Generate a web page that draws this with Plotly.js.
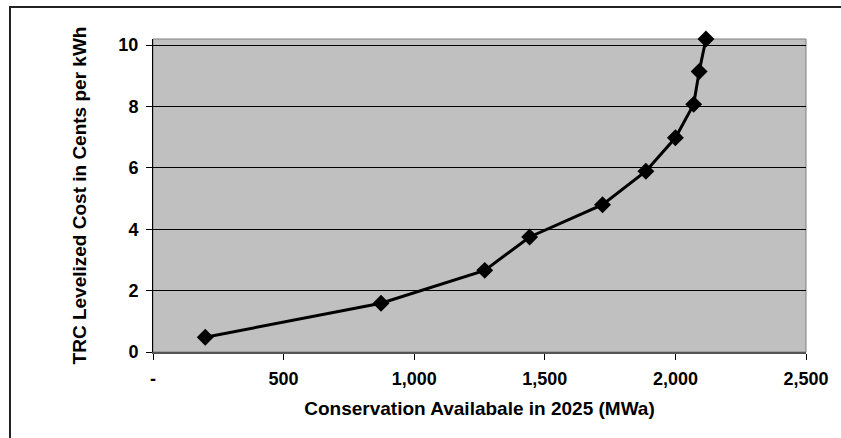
<!DOCTYPE html>
<html>
<head>
<meta charset="utf-8">
<script src="https://cdn.plot.ly/plotly-3.0.1.min.js"></script>
<style>
  html, body { margin: 0; padding: 0; background: #ffffff; }
  #chart { width: 841px; height: 438px; }
</style>
</head>
<body>
<div id="chart"></div>
<script>
// Data
const conservationMWa = [200, 873, 1270, 1442, 1721, 1887, 2000, 2070, 2091, 2117];
const costCentsPerKWh = [0.48, 1.59, 2.66, 3.75, 4.80, 5.89, 6.98, 8.07, 9.14, 10.2];
const xTickValues = [0, 500, 1000, 1500, 2000, 2500];
const xTickLabels = ["-", "500", "1,000", "1,500", "2,000", "2,500"];
const yTickValues = [0, 2, 4, 6, 8, 10];
const xTitle = "Conservation Availabale in 2025 (MWa)";
const yTitle = "TRC Levelized Cost in Cents per kWh";

const fontFamily = "Liberation Sans, Arial, sans-serif";

const trace = {
  type: "scatter",
  mode: "lines+markers",
  x: conservationMWa,
  y: costCentsPerKWh,
  line: { color: "#000000", width: 3 },
  marker: { symbol: "diamond", size: 13, color: "#000000" },
  cliponaxis: false,
  hoverinfo: "x+y"
};

const layout = {
  width: 841,
  height: 438,
  margin: { l: 153, r: 35, t: 39, b: 86 },
  paper_bgcolor: "#ffffff",
  plot_bgcolor: "#c0c0c0",
  showlegend: false,
  font: { family: fontFamily, size: 18, color: "#000000", weight: "bold" },
  xaxis: {
    range: [0, 2500],
    tickvals: xTickValues,
    ticktext: xTickLabels,
    ticks: "outside",
    ticklen: 6,
    tickcolor: "#000000",
    tickwidth: 1,
    ticklabelstandoff: 3,
    showline: true,
    linecolor: "#555555",
    linewidth: 2,
    showgrid: false,
    zeroline: false,
    tickfont: { family: fontFamily, size: 18, weight: "bold" },
    title: { text: xTitle, font: { family: fontFamily, size: 19, weight: "bold" }, standoff: 14 }
  },
  yaxis: {
    range: [0, 10.2],
    tickvals: yTickValues,
    ticks: "outside",
    ticklen: 6,
    tickcolor: "#000000",
    tickwidth: 1,
    ticklabelstandoff: 4,
    showline: true,
    linecolor: "#000000",
    linewidth: 1,
    showgrid: true,
    gridcolor: "#000000",
    gridwidth: 1,
    zeroline: false,
    tickfont: { family: fontFamily, size: 18, weight: "bold" },
    title: { text: yTitle, font: { family: fontFamily, size: 19, weight: "bold" }, standoff: 26 }
  },
  shapes: [
    {
      type: "rect", xref: "paper", yref: "paper",
      x0: 0, x1: 1, y0: 0, y1: 1,
      line: { color: "#808080", width: 1 },
      layer: "below"
    },
    {
      type: "rect", xref: "paper", yref: "paper",
      x0: -0.219, x1: 1.2, y0: -0.5, y1: 1.102,
      line: { color: "#222222", width: 2 },
      fillcolor: "rgba(0,0,0,0)"
    }
  ]
};

Plotly.newPlot("chart", [trace], layout, { displayModeBar: false, staticPlot: true });
</script>
</body>
</html>
